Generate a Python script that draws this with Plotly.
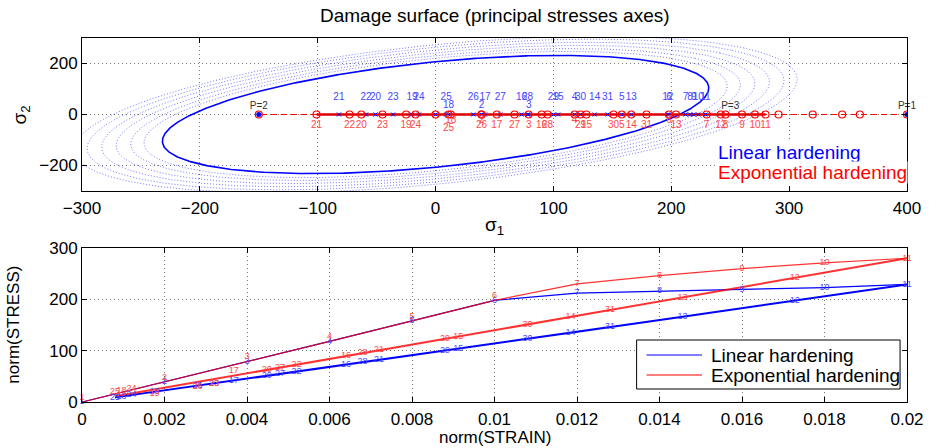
import numpy as np
import plotly.graph_objects as go

# ---------------- data ----------------
steps = list(range(1, 32))
# signed total strain at each step (bottom plot uses its norm)
strain = [0, .002, .004, .006, .008, .010, .012, .014, .016, .018, .020,
          .01728, .01456, .01184, .00912, .0064, .00368, .00096,
          -.00176, -.00448, -.0072, -.0052, -.0032, -.0012,
          .0008, .0028, .0048, .0068, .0088, .0108, .0128]
# principal stress sigma1 (sigma2 = 0) for each model
sigma1_linear = [0, 39, 79, 118, 158, 198, 212, 216, 219, 223, 229,
                 197, 166, 135, 104, 73, 42, 11, -20, -51, -82, -59, -36, -14,
                 9, 32, 55, 78, 100, 123, 146]
sigma1_expo = [0, 39, 79, 118, 158, 198, 230, 246, 260, 271, 280,
               242, 204, 166, 128, 90, 52, 13, -25, -63, -101, -73, -45, -17,
               11, 39, 67, 95, 123, 151, 179]

# prescribed load path targets
path_labels = ["P=1", "P=2", "P=3"]
path_sigma1 = [400, -150, 250]
path_marks = [-150, 291, 320, 345, 360, 400]

# damage surface: x^2 + y^2 - 2 c x y = r^2
surf_coupling = 0.45
surf_r_current = 207
surf_r_levels = [221, 231, 242, 253, 264, 274]

series_names = ["Linear hardening", "Exponential hardening"]

# ---------------- style helpers ----------------
FONT = "Liberation Sans, Arial, Helvetica, sans-serif"
BLUE = "rgb(0,0,255)"
RED = "rgb(255,0,0)"
LBLUE = "rgb(70,70,255)"
LRED = "rgb(255,70,70)"

theta = np.linspace(0, 2 * np.pi, 721)


def ellipse(r):
    a = r / np.sqrt(1 - surf_coupling)
    b = r / np.sqrt(1 + surf_coupling)
    u = a * np.cos(theta)
    v = b * np.sin(theta)
    return (u + v) / np.sqrt(2), (u - v) / np.sqrt(2)


fig = go.Figure()

# ---- top: damage surfaces
for r in surf_r_levels:
    ex, ey = ellipse(r)
    fig.add_trace(go.Scatter(x=ex, y=ey, mode="lines", xaxis="x", yaxis="y",
                             line=dict(color="rgba(95,95,255,0.85)", width=1, dash="1px,2px"),
                             showlegend=False, hoverinfo="skip"))
ex, ey = ellipse(surf_r_current)
fig.add_trace(go.Scatter(x=ex, y=ey, mode="lines", xaxis="x", yaxis="y",
                         line=dict(color=BLUE, width=1.6), showlegend=False, hoverinfo="skip"))

# load path (dashed)
fig.add_trace(go.Scatter(x=path_sigma1, y=[0] * len(path_sigma1), mode="lines", xaxis="x", yaxis="y",
                         line=dict(color=RED, width=1.2, dash="6px,4px"), showlegend=False))
# linear model path along sigma2=0
fig.add_trace(go.Scatter(x=sigma1_linear, y=[0] * 31, mode="lines", xaxis="x", yaxis="y",
                         line=dict(color=BLUE, width=1), showlegend=False))
# exponential model path
fig.add_trace(go.Scatter(x=sigma1_expo, y=[0] * 31, mode="lines", xaxis="x", yaxis="y",
                         line=dict(color="rgb(220,0,0)", width=2.4), showlegend=False))
fig.add_trace(go.Scatter(x=sigma1_linear, y=[0] * 31, mode="markers", xaxis="x", yaxis="y",
                         marker=dict(symbol="x-thin", size=4, line=dict(color=BLUE, width=1)),
                         showlegend=False))
fig.add_trace(go.Scatter(x=sigma1_expo + path_marks, y=[0] * (31 + len(path_marks)), mode="markers",
                         xaxis="x", yaxis="y",
                         marker=dict(symbol="circle-open", size=7, color=RED, line=dict(width=1.2)),
                         showlegend=False))
# P markers and labels
fig.add_trace(go.Scatter(x=path_sigma1[:2], y=[0, 0], mode="markers", xaxis="x", yaxis="y",
                         marker=dict(symbol="circle", size=5, color=BLUE), showlegend=False))
fig.add_trace(go.Scatter(x=path_sigma1, y=[32] * 3, mode="text", text=path_labels, xaxis="x", yaxis="y",
                         textposition="middle center", textfont=dict(size=10, color="#333", family=FONT),
                         cliponaxis=False, showlegend=False))

# step labels in stress space
blue_inner = {2, 3, 18}
red_inner = {2, 4, 6, 18}
red_outer = {25}
bx, by, bt, rx, ry, rt = [], [], [], [], [], []
for s, sl, se in zip(steps, sigma1_linear, sigma1_expo):
    if s == 1:
        continue
    bx.append(sl); bt.append(str(s)); by.append(37 if s in blue_inner else 67)
    rx.append(se); rt.append(str(s))
    ry.append(-22 if s in red_inner else (-56 if s in red_outer else -43))
fig.add_trace(go.Scatter(x=bx, y=by, text=bt, mode="text", xaxis="x", yaxis="y",
                         textfont=dict(size=10, color=LBLUE, family=FONT), showlegend=False))
fig.add_trace(go.Scatter(x=rx, y=ry, text=rt, mode="text", xaxis="x", yaxis="y",
                         textfont=dict(size=10, color=LRED, family=FONT), showlegend=False))

# ---- bottom: norm(STRESS) vs norm(STRAIN)
eps_norm = [abs(e) for e in strain]
lin_norm = [abs(s) for s in sigma1_linear]
exp_norm = [abs(s) for s in sigma1_expo]

for name, col, vals, op in [(series_names[0], BLUE, lin_norm, 1.0),
                            (series_names[1], RED, exp_norm, 0.8)]:
    fig.add_trace(go.Scatter(x=eps_norm[:11], y=vals[:11], mode="lines", xaxis="x2", yaxis="y2",
                             name=name, opacity=op, line=dict(color=col, width=1.2), showlegend=False))
    fig.add_trace(go.Scatter(x=eps_norm[10:], y=vals[10:], mode="lines", xaxis="x2", yaxis="y2",
                             name=name, opacity=op, line=dict(color=col, width=2), showlegend=False))

red_lift = {1, 2, 3, 4, 5, 6, 17, 18, 24, 25}
red_drop = {19, 23, 26}
red_pos = ["top center" if s in red_lift else ("bottom center" if s in red_drop else "middle center")
           for s in steps]
fig.add_trace(go.Scatter(x=eps_norm, y=lin_norm, text=[str(s) for s in steps], mode="text",
                         xaxis="x2", yaxis="y2", textposition="middle center", cliponaxis=False,
                         textfont=dict(size=9, color=LBLUE, family=FONT), showlegend=False))
fig.add_trace(go.Scatter(x=eps_norm, y=exp_norm, text=[str(s) for s in steps], mode="text",
                         xaxis="x2", yaxis="y2", textposition=red_pos, cliponaxis=False,
                         textfont=dict(size=9, color=LRED, family=FONT), showlegend=False))

# ---------------- layout ----------------
L, R, T, B = 82, 915, 38, 402
W, H = 936, 448
PW, PH = R - L, B - T


def px(x):
    return (x - L) / PW


def py(y):
    return (B - y) / PH


axis_common = dict(showline=True, linecolor="black", linewidth=1, mirror="ticks",
                   ticks="inside", ticklen=5, tickcolor="black", zeroline=False,
                   showgrid=True, gridcolor="rgb(120,120,120)", gridwidth=1, griddash="1px,3px",
                   tickfont=dict(size=17, family=FONT, color="black"))

strain_ticks = [0, 0.002, 0.004, 0.006, 0.008, 0.01, 0.012, 0.014, 0.016, 0.018, 0.02]

fig.update_layout(
    width=W, height=H,
    margin=dict(l=L, r=W - R, t=T, b=H - B, pad=0),
    paper_bgcolor="white", plot_bgcolor="white",
    font=dict(family=FONT, size=16, color="black"),
    xaxis=dict(axis_common, domain=[0, 1], anchor="y", range=[-300, 400],
               tickvals=[-300, -200, -100, 0, 100, 200, 300, 400], ticklabelstandoff=2),
    yaxis=dict(axis_common, domain=[py(191), 1], anchor="x", range=[-300, 300],
               tickvals=[-200, 0, 200]),
    xaxis2=dict(axis_common, domain=[0, 1], anchor="y2", range=[0, 0.02], ticklabelstandoff=2,
                tickvals=strain_ticks, ticktext=[("%g" % t) for t in strain_ticks]),
    yaxis2=dict(axis_common, domain=[0, py(248)], anchor="x2", range=[0, 300],
                tickvals=[0, 100, 200, 300]),
    showlegend=False,
)

# manual legend box for the bottom axes (MATLAB style)
shapes = [
    dict(type="rect", xref="paper", yref="paper", x0=px(642), x1=px(908), y0=py(389), y1=py(340),
         line=dict(color="black", width=1), fillcolor="white", layer="above"),
    dict(type="line", xref="paper", yref="paper", x0=px(652), x1=px(708), y0=py(355), y1=py(355),
         line=dict(color=BLUE, width=1.2), layer="above"),
    dict(type="line", xref="paper", yref="paper", x0=px(652), x1=px(708), y0=py(375), y1=py(375),
         line=dict(color=RED, width=1.2), layer="above"),
]
fig.update_layout(shapes=shapes)

ann = [
    dict(text="Damage surface (principal stresses axes)", x=0.5, y=py(16), font=dict(size=19)),
    dict(text="σ<sub>1</sub>", x=px(498), y=py(226), font=dict(size=19)),
    dict(text="σ<sub>2</sub>", x=px(20), y=py(115), font=dict(size=19), textangle=-90),
    dict(text="norm(STRESS)", x=px(12), y=py(325), font=dict(size=17), textangle=-90),
    dict(text="norm(STRAIN)", x=0.5 * (px(L) + px(R)), y=py(437), font=dict(size=17)),
    dict(text=series_names[0], x=px(723), y=py(152), xanchor="left",
         font=dict(size=19, color=BLUE), bgcolor="white", borderpad=0),
    dict(text=series_names[1], x=px(723), y=py(172), xanchor="left",
         font=dict(size=19, color=RED), bgcolor="white", borderpad=0),
    dict(text=series_names[0], x=px(715), y=py(355), xanchor="left", font=dict(size=19)),
    dict(text=series_names[1], x=px(715), y=py(375), xanchor="left", font=dict(size=19)),
]
for a in ann:
    a.setdefault("xanchor", "center")
    a.update(xref="paper", yref="paper", yanchor="middle", showarrow=False)
    a["font"] = dict(dict(family=FONT, color="black"), **a["font"])
fig.update_layout(annotations=ann)

fig.write_html("out.html", config={"displayModeBar": False},
               post_script="document.body.style.margin='0';document.body.style.overflow='hidden';")
